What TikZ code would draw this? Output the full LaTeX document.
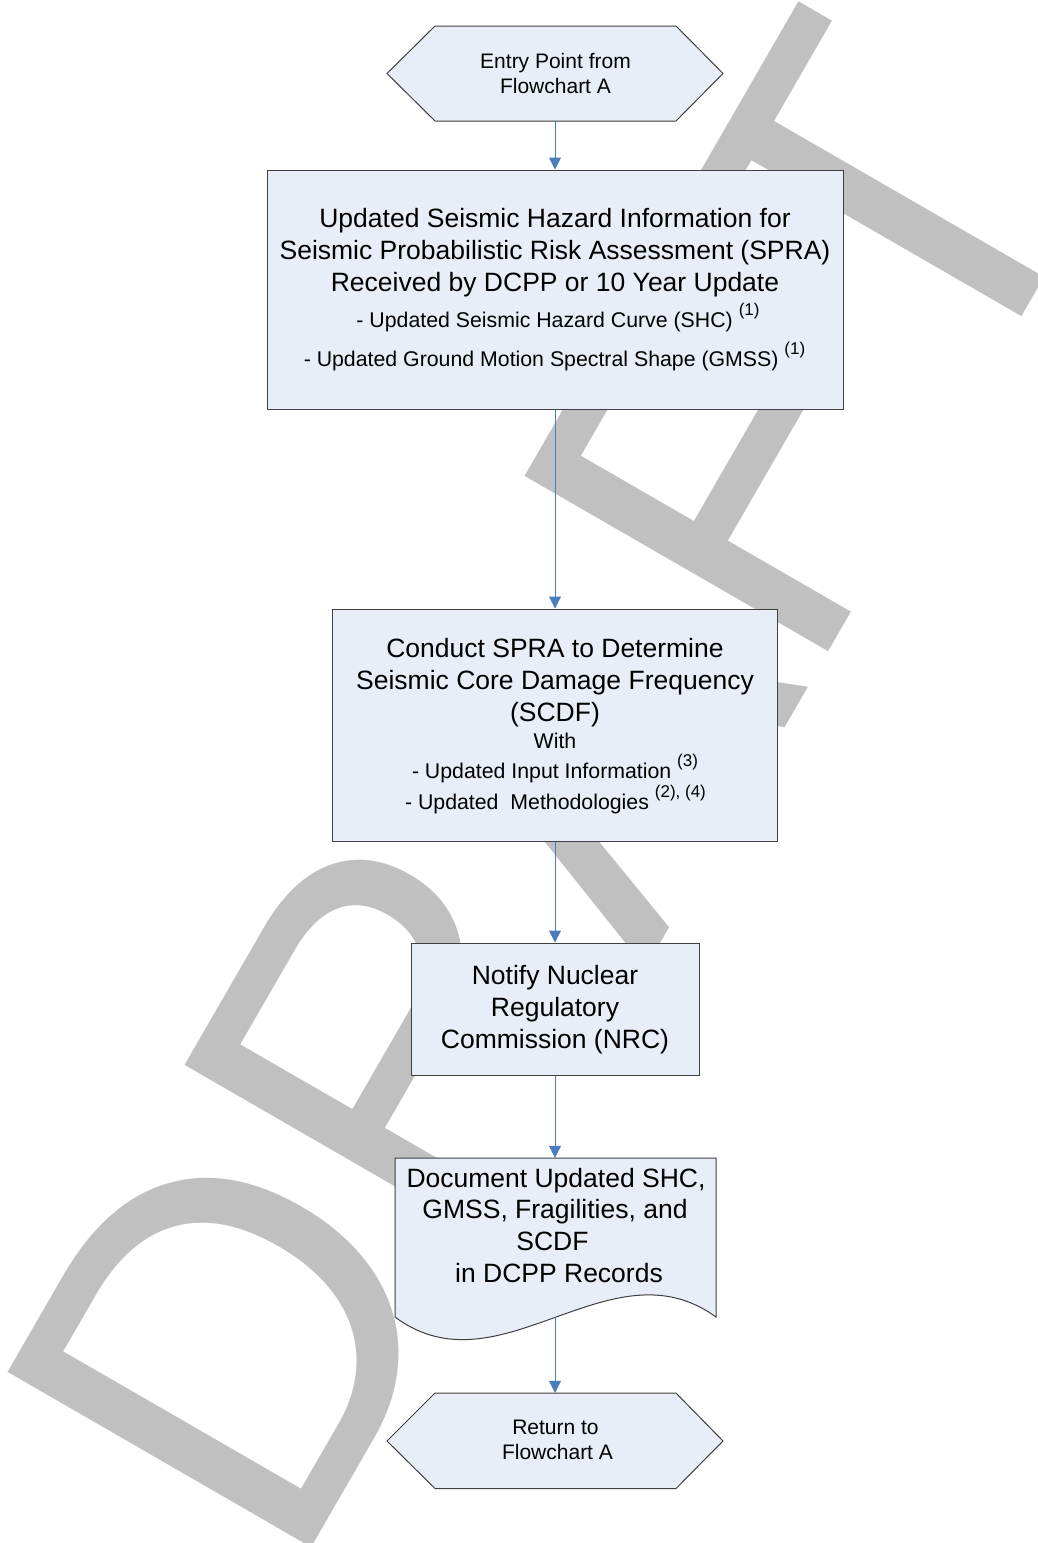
\documentclass[tikz,border=0pt]{standalone}
\usepackage{fontspec}
\setmainfont{Liberation Sans}
\usetikzlibrary{arrows.meta}
\definecolor{boxfill}{HTML}{E8EEF7}
\definecolor{boxline}{HTML}{3F3F3F}
\definecolor{arrowblue}{HTML}{4A7EBB}
\definecolor{wmgray}{HTML}{C0C0C0}
\newcommand\supnote[1]{\raisebox{12pt}{\fontsize{17}{17}\selectfont #1}}
\begin{document}
\begin{tikzpicture}[x=1pt,y=-1pt,
  shapebox/.style={fill=boxfill, draw=boxline, line width=1pt},
  rectbox/.style={shapebox, rectangle, inner sep=0pt},
  anchorbox/.style={rectangle, draw=none, inner sep=0pt},
  txt/.style={inner sep=0pt, anchor=base, text=black},
  bigtxt/.style={txt, font=\fontsize{26.5}{32}\selectfont},
  smalltxt/.style={txt, font=\fontsize{21.3}{25}\selectfont},
  hextxt/.style={txt, font=\fontsize{21}{25}\selectfont},
  wm/.style={anchor=base west, rotate=60, inner sep=0pt, text=wmgray, font=\fontsize{490}{490}\selectfont},
  flow/.style={draw=arrowblue, line width=1pt, -{Triangle[width=12pt,length=12pt]}}
]
\useasboundingbox (0,0) rectangle (1038,1543);
\fill[white] (0,0) rectangle (1038,1543);
% watermark
\begin{scope}
\clip (0,0) rectangle (1038,1543);
\node[wm] (wmark) at (291.4,1582.2) {\scalebox{1}[1.04]{DRAFT}};
\end{scope}

% entry hexagon
\path[shapebox] (387,73.5) -- (435,26) -- (676,26) -- (723,73.5) -- (676,121) -- (435,121) -- cycle;
\node[anchorbox, minimum width=336pt, minimum height=95pt] (entry) at (555,73.5) {};
\node[hextxt] (e1) at (555.5,68) {Entry Point from};
\node[hextxt] (e2) at (555.5,93) {Flowchart A};

% box 1
\node[rectbox, minimum width=576pt, minimum height=239pt] (spra) at (555,289.5) {};
\node[bigtxt] (s1) at (555,227) {Updated Seismic Hazard Information for};
\node[bigtxt] (s2) at (555,259) {Seismic Probabilistic Risk Assessment (SPRA)};
\node[bigtxt] (s3) at (555,291) {Received by DCPP or 10 Year Update};
\node[smalltxt] (s4) at (558,327) {- Updated Seismic Hazard Curve (SHC) \supnote{(1)}};
\node[smalltxt] (s5) at (554.5,366) {- Updated Ground Motion Spectral Shape (GMSS) \supnote{(1)}};

% box 2
\node[rectbox, minimum width=445pt, minimum height=232pt] (conduct) at (555,725) {};
\node[bigtxt] (c1) at (555,657.5) {Conduct SPRA to Determine};
\node[bigtxt] (c2) at (555,689.5) {Seismic Core Damage Frequency};
\node[bigtxt] (c3) at (555,721) {(SCDF)};
\node[smalltxt] (c4) at (555,748) {With};
\node[smalltxt] (c5) at (555,778) {- Updated Input Information \supnote{(3)}};
\node[smalltxt] (c6) at (555.5,809.5) {- Updated~~Methodologies \supnote{(2), (4)}};

% box 3
\node[rectbox, minimum width=288pt, minimum height=132pt] (notify) at (555,1009) {};
\node[bigtxt] (n1) at (555,984.5) {Notify Nuclear};
\node[bigtxt] (n2) at (555,1016.5) {Regulatory};
\node[bigtxt] (n3) at (555,1048.5) {Commission (NRC)};

% document shape
\path[shapebox] (395,1158) -- (716,1158) -- (716,1317) .. controls (610,1240) and (500,1395) .. (395,1317) -- cycle;
\node[anchorbox, minimum width=321pt, minimum height=159pt] (doc) at (555,1237.5) {};
\node[bigtxt] (d1) at (556,1187) {Document Updated SHC,};
\node[bigtxt] (d2) at (555,1218.5) {GMSS, Fragilities, and};
\node[bigtxt] (d3) at (552.5,1250) {SCDF};
\node[bigtxt] (d4) at (559,1282) {in DCPP Records};

% return hexagon
\path[shapebox] (387,1441) -- (435,1393) -- (676,1393) -- (723,1441) -- (676,1488.5) -- (435,1488.5) -- cycle;
\node[anchorbox, minimum width=336pt, minimum height=95.5pt] (ret) at (555,1440.75) {};
\node[hextxt] (r1) at (555.5,1434.5) {Return to};
\node[hextxt] (r2) at (557.5,1459.5) {Flowchart A};

% connectors
\draw[flow] (entry.south) -- (spra.north);
\draw[flow] (spra.south) -- (conduct.north);
\draw[flow] (conduct.south) -- (notify.north);
\draw[flow] (notify.south) -- (doc.north);
\draw[flow] (doc.south) -- (ret.north);
\end{tikzpicture}
\end{document}
